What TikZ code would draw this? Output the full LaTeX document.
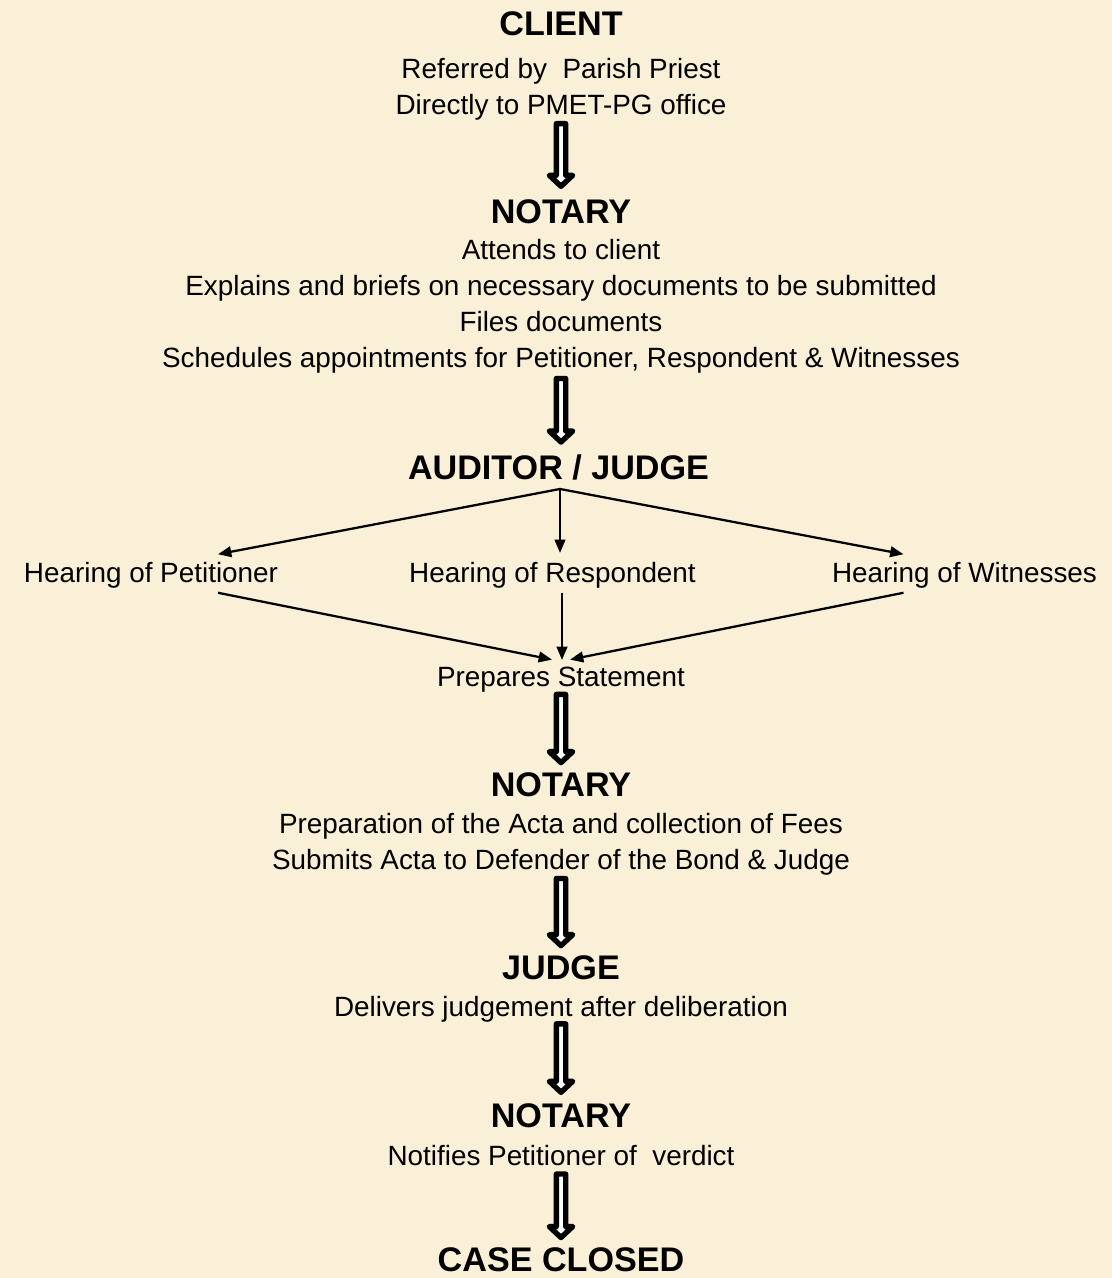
\documentclass[tikz,border=0pt]{standalone}
\usepackage{fontspec}
\setmainfont{Liberation Sans}
\usetikzlibrary{arrows.meta,calc}
\definecolor{bg}{HTML}{FAF0D8}
\newcommand{\harrow}[4]{%
  \draw[hollow] let \p1=(#1.south), \p2=(#2.north) in
    (\x1-3.5pt,\y1-#3pt) -- (\x1+3.5pt,\y1-#3pt) -- (\x1+3.5pt,\y2+#4pt+8.25pt)
    -- (\x1+8.8pt,\y2+#4pt+8.25pt) -- (\x1,\y2+#4pt) -- (\x1-8.8pt,\y2+#4pt+8.25pt)
    -- (\x1-3.5pt,\y2+#4pt+8.25pt) -- cycle;}
\begin{document}
\begin{tikzpicture}[x=0.75pt,y=-0.75pt,
  title/.style={font=\fontsize{25.6}{30}\selectfont\bfseries, inner sep=0pt},
  body/.style={font=\fontsize{20.9}{27}\selectfont, inner sep=0pt, align=center},
  thinarrow/.style={line width=1.7pt, -{Triangle[length=10pt,width=8pt]}},
  hollow/.style={line width=4pt, line join=round, fill=white}]
\fill[bg] (0,0) rectangle (1112,1278);
\useasboundingbox (0,0) rectangle (1112,1278);

\node[title] (client) at (561,24) {CLIENT};
\node[body] (clientb) at (561,89) {Referred by\ \ Parish Priest\\Directly to PMET-PG office};
\node[title] (not1) at (561,212) {NOTARY};
\node[body] (not1b) at (561,306.5) {Attends to client\\Explains and briefs on necessary documents to be submitted\\Files documents\\Schedules appointments for Petitioner, Respondent \& Witnesses};
\node[title] (aud) at (558.5,467) {AUDITOR / JUDGE};
\node[body] (pet) at (151,575.5) {Hearing of Petitioner};
\node[body] (resp) at (552.5,575.5) {Hearing of Respondent};
\node[body] (wit) at (964.5,575.5) {Hearing of Witnesses};
\node[body] (prep) at (561,679.5) {Prepares Statement};
\node[title] (not2) at (561,785) {NOTARY};
\node[body] (not2b) at (561,844.5) {Preparation of the Acta and collection of Fees\\Submits Acta to Defender of the Bond \& Judge};
\node[title] (judge) at (561,968) {JUDGE};
\node[body] (judgeb) at (561,1009.5) {Delivers judgement after deliberation};
\node[title] (not3) at (561,1116) {NOTARY};
\node[body] (not3b) at (561,1155.5) {Notifies Petitioner of\ \ verdict};
\node[title] (closed) at (561,1259.5) {CASE CLOSED};

\harrow{clientb}{not1}{2.5}{10}
\harrow{not1b}{aud}{3.5}{9}
\harrow{prep}{not2}{1.5}{7.5}
\harrow{not2b}{judge}{2}{7.5}
\harrow{judgeb}{not3}{0.8}{8.5}
\harrow{not3b}{closed}{6}{7.2}

\draw[thinarrow] ($(aud.south)+(1.5,9)$) -- ($(pet.north)+(67,-8)$);
\draw[thinarrow] let \p1=($(aud.south)+(1.5,9)$), \p2=(resp.north) in (\p1) -- (\x1,\y2+7pt);
\draw[thinarrow] ($(aud.south)+(1.5,9)$) -- ($(wit.north)+(-61,-8)$);
\draw[thinarrow] ($(pet.south)+(67,4)$) -- ($(prep.north)+(-9,-7)$);
\draw[thinarrow] let \p1=(resp.south), \p2=(prep.north) in (\x2+0.75pt,\y1-3pt) -- (\x2+0.75pt,\y2+5pt);
\draw[thinarrow] ($(wit.south)+(-61,4)$) -- ($(prep.north)+(9,-7)$);
\end{tikzpicture}
\end{document}
